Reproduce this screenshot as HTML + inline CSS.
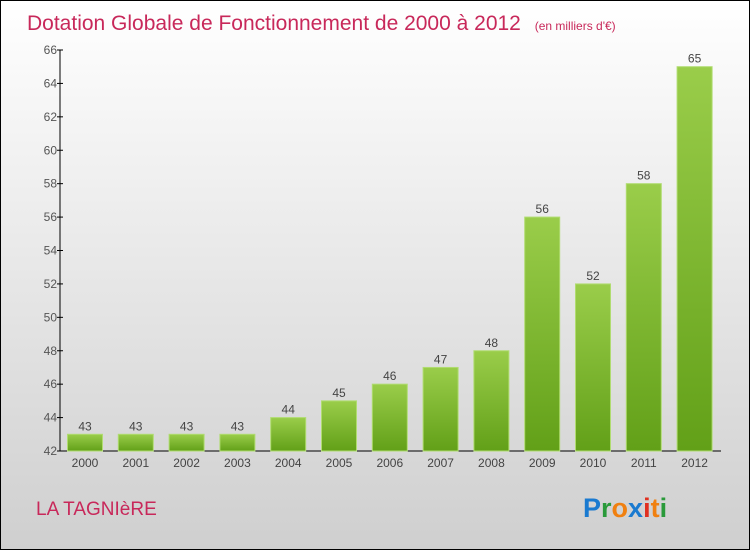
<!DOCTYPE html>
<html><head><meta charset="utf-8"><style>
body{margin:0}
#c{width:750px;height:550px;position:relative;box-sizing:border-box;border:1px solid #000;background:linear-gradient(#fff,#cfcfcf);font-family:"Liberation Sans",sans-serif;overflow:hidden}
</style></head><body>
<div id="c">
<svg width="748" height="548">
<defs><linearGradient id="g" x1="0" y1="0" x2="0" y2="1"><stop offset="0" stop-color="#9acd4a"/><stop offset="1" stop-color="#62a018"/></linearGradient></defs>
<text x="26" y="29" font-size="21" fill="#c8285a">Dotation Globale de Fonctionnement de 2000 à 2012 <tspan font-size="12" dx="8">(en milliers d'€)</tspan></text>
<g id="ax"></g><g id="bars"></g>
<text x="35" y="514" font-size="19" fill="#c8285a">LA TAGNIèRE</text>
<g font-size="27" font-weight="bold">
<text x="582" y="516" fill="#1a7ad0">P<tspan fill="#2a9a3a">r</tspan><tspan fill="#f08010">o</tspan><tspan fill="#1a7ad0">x</tspan><tspan fill="#e03020">i</tspan><tspan fill="#f08010">t</tspan><tspan fill="#2a9a3a">i</tspan></text></g>
</svg></div>
<script>
const years=["2000","2001","2002","2003","2004","2005","2006","2007","2008","2009","2010","2011","2012"];
const values=[43,43,43,43,44,45,46,47,48,56,52,58,65];
const yTicks=[42,44,46,48,50,52,54,56,58,60,62,64,66];
const NS="http://www.w3.org/2000/svg";
const x0=59,y0=450,yTop=49,vMin=42,vMax=66,step=50.8,first=84,bw=35;
const Y=v=>y0-(v-vMin)/(vMax-vMin)*(y0-yTop);
const X=i=>first+i*step;
function mk(t,a,p){const e=document.createElementNS(NS,t);for(const k in a)e.setAttribute(k,a[k]);p.appendChild(e);return e;}
const ax=document.getElementById('ax'),bars=document.getElementById('bars');
const yl=mk('line',{x1:x0,y1:yTop,x2:x0,y2:y0,stroke:'#000'},ax);


const xl=mk('line',{x1:x0,y1:y0,x2:720,y2:y0,stroke:'#000'},ax);


yTicks.forEach(v=>{mk('line',{x1:x0-3,y1:Y(v),x2:x0+3,y2:Y(v),stroke:'#000'},ax);
const t=mk('text',{x:x0-3,y:Y(v)+4,'text-anchor':'end','font-size':12,fill:'#555'},ax);t.textContent=v;

});
years.forEach((yr,i)=>{const v=values[i];
const r=mk('rect',{x:X(i)-bw/2,y:Y(v),width:bw,height:y0-Y(v),fill:'url(#g)',stroke:'#b0dc70','stroke-width':1},bars);


const l=mk('text',{x:X(i),y:Y(v)-4,'text-anchor':'middle','font-size':12,fill:'#444'},bars);l.textContent=v;


const t=mk('text',{x:X(i),y:y0+16,'text-anchor':'middle','font-size':12,fill:'#444'},ax);t.textContent=yr;

});
</script></body></html>
